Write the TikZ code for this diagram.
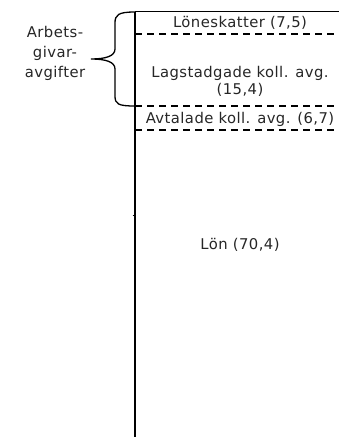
\documentclass[tikz,border=0pt]{standalone}
\usepackage{fontspec}
\setmainfont{DejaVu Sans}[LetterSpace=3]
\begin{document}
\begin{tikzpicture}[x=1pt,y=-1pt,
  lbl/.style={font=\fontsize{14.8}{17}\selectfont, inner sep=0pt, align=center, text=black!85},
  solidline/.style={line width=1.6pt},
  dashline/.style={line width=1.4pt, dash pattern=on 7pt off 5pt},
  bracestyle/.style={line width=1.3pt}]
\useasboundingbox (0,0) rectangle (339,438);
\coordinate (top) at (135,12);
\coordinate (bot) at (135,437);
\coordinate (topR) at (339,12);
\draw[solidline] (top) -- (bot);
\draw[line width=1pt] (top) -- (topR);
\draw[dashline] (135,34) -- (339,34);
\draw[dashline] (135,106) -- (339,106);
\draw[dashline] (135,130) -- (339,130);
\draw[line width=0.8pt] (132.5,215) -- (135,215);
\draw[bracestyle] (135,12) .. controls (118,12) and (115,15) .. (115,23) -- (115,49)
  .. controls (115,56) and (106,59) .. (91,59)
  .. controls (106,59) and (115,62) .. (115,69) -- (115,96)
  .. controls (115,104) and (118,106) .. (135,106);
\node[lbl] (l1) at (240,23) {Löneskatter (7,5)};
\node[lbl] (l2) at (240,81) {Lagstadgade koll. avg.\\(15,4)};
\node[lbl] (l3) at (240,119) {Avtalade koll. avg. (6,7)};
\node[lbl] (l4) at (240,245) {Lön (70,4)};
\node[lbl, align=center, font=\fontsize{14.8}{20}\selectfont] (ag) at (55,53) {Arbets-\\givar-\\avgifter};
\end{tikzpicture}
\end{document}
